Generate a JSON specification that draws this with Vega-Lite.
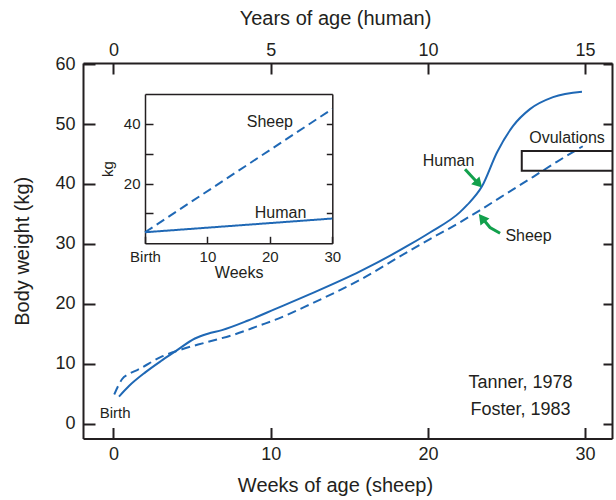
{
  "$schema": "https://vega.github.io/schema/vega-lite/v6.json",
  "width": 529,
  "height": 375.5,
  "autosize": {"type": "none"},
  "padding": {"left": 83, "top": 63, "right": 4, "bottom": 61.5},
  "background": "white",
  "config": {
    "font": "Liberation Sans",
    "view": {"stroke": null},
    "axis": {
      "grid": false,
      "labelFlush": false,
      "labelOverlap": false,
      "domainColor": "#231f20",
      "domainWidth": 2,
      "tickColor": "#231f20",
      "tickWidth": 2,
      "labelColor": "#231f20",
      "titleColor": "#231f20",
      "titleFontWeight": "normal",
      "labelFont": "Liberation Sans",
      "titleFont": "Liberation Sans"
    },
    "text": {"font": "Liberation Sans", "color": "#231f20"}
  },
  "datasets": {
    "sheep": [
      {"week": 0.05, "kg": 4.85}, {"week": 0.3, "kg": 6.3}, {"week": 0.54, "kg": 7.4},
      {"week": 1.0, "kg": 8.3}, {"week": 1.56, "kg": 9.0}, {"week": 3.09, "kg": 11.2},
      {"week": 4.36, "kg": 12.4}, {"week": 5.82, "kg": 13.5}, {"week": 7.73, "kg": 14.9},
      {"week": 9.32, "kg": 16.4}, {"week": 10.27, "kg": 17.3}, {"week": 12.5, "kg": 19.9},
      {"week": 15.68, "kg": 24.0}, {"week": 18.86, "kg": 28.9}, {"week": 20.13, "kg": 30.8},
      {"week": 22.04, "kg": 33.6}, {"week": 23.3, "kg": 35.6}, {"week": 25.42, "kg": 39.1},
      {"week": 26.7, "kg": 41.2}, {"week": 28.2, "kg": 43.7}, {"week": 29.85, "kg": 46.3}
    ],
    "human": [
      {"years": 0.175, "kg": 4.5}, {"years": 0.5, "kg": 6.3}, {"years": 1.0, "kg": 8.5},
      {"years": 1.5, "kg": 10.4}, {"years": 1.955, "kg": 12.0}, {"years": 2.59, "kg": 14.2},
      {"years": 3.0, "kg": 15.0}, {"years": 3.45, "kg": 15.6}, {"years": 4.28, "kg": 17.2},
      {"years": 5.135, "kg": 19.1}, {"years": 6.25, "kg": 21.6}, {"years": 7.84, "kg": 25.4},
      {"years": 9.43, "kg": 29.9}, {"years": 10.065, "kg": 31.9}, {"years": 11.02, "kg": 35.3},
      {"years": 11.25, "kg": 36.5}, {"years": 11.72, "kg": 39.6}, {"years": 12.2, "kg": 45.3},
      {"years": 12.71, "kg": 49.7}, {"years": 13.245, "kg": 52.5}, {"years": 13.98, "kg": 54.5},
      {"years": 14.9, "kg": 55.4}
    ],
    "bracket": [
      {"i": 0, "week": 31.71, "kg": 45.5}, {"i": 1, "week": 25.97, "kg": 45.5},
      {"i": 2, "week": 25.97, "kg": 42.2}, {"i": 3, "week": 31.71, "kg": 42.2}
    ],
    "arrowShafts": [
      {"arrow": "Human", "i": 0, "week": 22.36, "kg": 42.47},
      {"arrow": "Human", "i": 1, "week": 23.16, "kg": 40.2},
      {"arrow": "Sheep", "i": 0, "week": 24.59, "kg": 31.77},
      {"arrow": "Sheep", "i": 1, "week": 23.95, "kg": 32.73},
      {"arrow": "Sheep", "i": 2, "week": 23.57, "kg": 33.95}
    ],
    "labels16": [
      {"label": "Human", "week": 21.31, "kg": 43.8},
      {"label": "Sheep", "week": 26.4, "kg": 31.3},
      {"label": "Ovulations", "week": 28.85, "kg": 47.7}
    ],
    "labels18": [
      {"label": "Tanner, 1978", "week": 25.89, "kg": 6.7},
      {"label": "Foster, 1983", "week": 25.89, "kg": 2.34}
    ],
    "birth": [{"label": "Birth", "week": 0.1, "kg": 1.84}],
    "inset": [
      {"series": "Human", "week": 0, "kg": 3.7}, {"series": "Human", "week": 30, "kg": 8.3},
      {"series": "Sheep", "week": 0, "kg": 3.7}, {"series": "Sheep", "week": 30, "kg": 45}
    ],
    "insetLabels": [
      {"label": "Sheep", "week": 20.0, "kg": 40.5},
      {"label": "Human", "week": 21.7, "kg": 10.2}
    ]
  },
  "layer": [
    {
      "encoding": {
        "x": {
          "field": "week", "type": "quantitative",
          "scale": {"domain": [-1.94, 31.71], "nice": false, "zero": false},
          "axis": {"orient": "bottom", "values": [0, 10, 20, 30], "tickSize": -11, "labelPadding": 18, "labelFontSize": 18,
                   "title": "Weeks of age (sheep)", "titleFontSize": 20, "titlePadding": 12, "titleX": 252}
        },
        "y": {
          "field": "kg", "type": "quantitative",
          "scale": {"domain": [-2.5, 60.2], "nice": false, "zero": false},
          "axis": {"orient": "left", "values": [0, 10, 20, 30, 40, 50, 60], "tickSize": -12, "labelPadding": 20, "labelFontSize": 18,
                   "title": "Body weight (kg)", "titleFontSize": 20, "titlePadding": 22}
        }
      },
      "layer": [
        {"data": {"name": "sheep"}, "mark": {"type": "line", "color": "#1f68b5", "strokeWidth": 2, "strokeDash": [9, 5], "interpolate": "monotone"}},
        {"data": {"name": "bracket"}, "mark": {"type": "line", "color": "#231f20", "strokeWidth": 2}, "encoding": {"order": {"field": "i"}}},
        {"data": {"name": "arrowShafts"}, "mark": {"type": "line", "color": "#12a04c", "strokeWidth": 3}, "encoding": {"detail": {"field": "arrow"}, "order": {"field": "i"}}},
        {"data": {"values": [{"week": 23.16, "kg": 40.2}]}, "mark": {"type": "point", "shape": "triangle", "filled": true, "color": "#12a04c", "opacity": 1, "size": 130, "angle": 136.6}},
        {"data": {"values": [{"week": 23.5, "kg": 34.1}]}, "mark": {"type": "point", "shape": "triangle", "filled": true, "color": "#12a04c", "opacity": 1, "size": 130, "angle": 322}},
        {"data": {"name": "labels16"}, "mark": {"type": "text", "fontSize": 16, "align": "center", "baseline": "middle"}, "encoding": {"text": {"field": "label"}}},
        {"data": {"name": "labels18"}, "mark": {"type": "text", "fontSize": 18, "align": "center", "baseline": "middle"}, "encoding": {"text": {"field": "label"}}},
        {"data": {"name": "birth"}, "mark": {"type": "text", "fontSize": 15, "align": "center", "baseline": "middle"}, "encoding": {"text": {"field": "label"}}}
      ]
    },
    {
      "data": {"name": "human"},
      "mark": {"type": "line", "color": "#1f68b5", "strokeWidth": 2, "interpolate": "monotone"},
      "encoding": {
        "x": {
          "field": "years", "type": "quantitative",
          "scale": {"domain": [-0.97, 15.855], "nice": false, "zero": false},
          "axis": {"orient": "top", "values": [0, 5, 10, 15], "tickSize": -11, "labelPadding": 15, "labelFontSize": 18,
                   "title": "Years of age (human)", "titleFontSize": 20, "titlePadding": 13, "titleX": 252}
        },
        "y": {
          "field": "kg", "type": "quantitative",
          "scale": {"domain": [-2.5, 60.2], "nice": false, "zero": false},
          "axis": {"orient": "right", "values": [0, 10, 20, 30, 40, 50, 60], "tickSize": -9, "labels": false, "title": null}
        }
      }
    },
    {
      "encoding": {
        "x": {
          "field": "week", "type": "quantitative",
          "scale": {"domain": [0, 30], "range": [62, 249.3], "nice": false, "zero": false},
          "axis": {"orient": "bottom", "offset": -195.2, "values": [0, 10, 20, 30], "labelExpr": "datum.value == 0 ? 'Birth' : datum.label",
                   "tickSize": -7, "labelPadding": 13, "labelFontSize": 15, "title": "Weeks", "titleFontSize": 16, "titlePadding": 0,
                   "domainWidth": 1.5, "tickWidth": 1.5}
        },
        "y": {
          "field": "kg", "type": "quantitative",
          "scale": {"domain": [0, 50], "range": [180.3, 31], "nice": false, "zero": false},
          "axis": {"orient": "left", "offset": -62, "values": [10, 20, 30, 40], "labelExpr": "datum.value % 20 == 0 ? datum.label : ''",
                   "tickSize": -8, "labelPadding": 13, "labelFontSize": 15, "title": "kg", "titleFontSize": 15, "titlePadding": 8,
                   "domainWidth": 1.5, "tickWidth": 1.5}
        }
      },
      "layer": [
        {"data": {"name": "inset"}, "mark": {"type": "line", "strokeWidth": 2, "color": "#1f68b5"},
         "encoding": {"strokeDash": {"field": "series", "type": "nominal", "scale": {"domain": ["Human", "Sheep"], "range": [[1, 0], [9, 5]]}, "legend": null}}},
        {"data": {"name": "insetLabels"}, "mark": {"type": "text", "fontSize": 16, "align": "center", "baseline": "middle"}, "encoding": {"text": {"field": "label"}}}
      ]
    },
    {
      "data": {"values": [{"week": 0, "kg": 0}]},
      "mark": {"type": "point", "opacity": 0},
      "encoding": {
        "x": {
          "field": "week", "type": "quantitative",
          "scale": {"domain": [0, 30], "range": [62, 249.3], "nice": false, "zero": false},
          "axis": {"orient": "top", "offset": -31, "ticks": false, "labels": false, "title": null, "domainWidth": 1.5}
        },
        "y": {
          "field": "kg", "type": "quantitative",
          "scale": {"domain": [0, 50], "range": [180.3, 31], "nice": false, "zero": false},
          "axis": {"orient": "right", "offset": -279.7, "values": [10, 20, 30, 40], "tickSize": -6, "labels": false, "title": null, "domainWidth": 1.5, "tickWidth": 1.5}
        }
      }
    }
  ],
  "resolve": {
    "scale": {"x": "independent", "y": "independent"},
    "axis": {"x": "independent", "y": "independent"}
  }
}
